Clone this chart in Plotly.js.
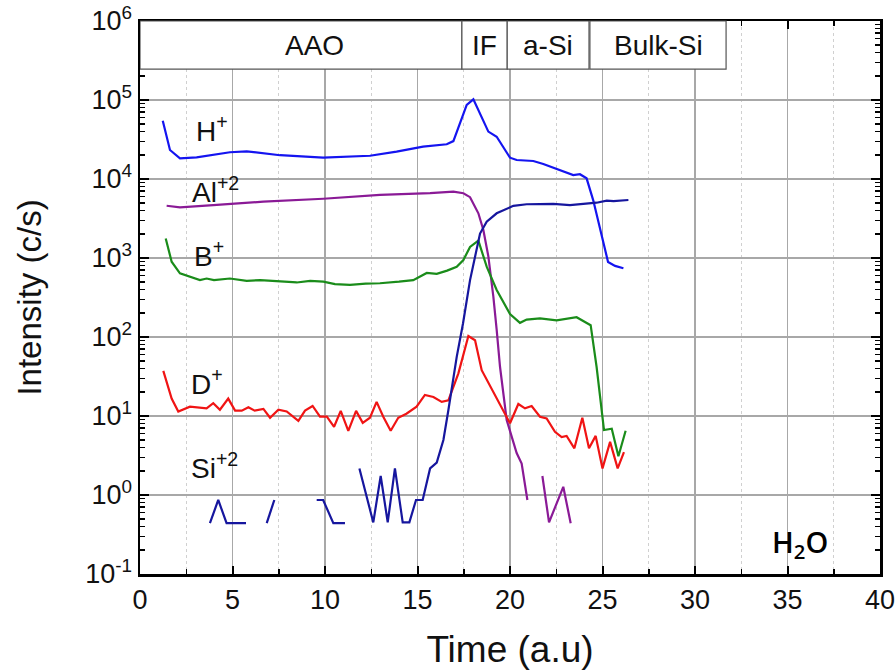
<!DOCTYPE html>
<html>
<head>
<meta charset="utf-8">
<script src="https://cdn.plot.ly/plotly-3.0.1.min.js"></script>
<style>html,body{margin:0;padding:0;background:#fff;}#chart{width:895px;height:671px;}</style>
</head>
<body>
<div id="chart"></div>
<script>
// ---- data (Time in a.u., Intensity in c/s) ----
const hTime = [1.23,1.62,2.16,3.06,4.86,5.77,7.57,9.9,12.43,13.87,15.3,16.58,16.94,17.3,17.66,18.02,18.47,18.83,19.28,20.0,20.36,21.26,21.8,22.52,23.42,23.78,24.14,24.5,24.95,25.3,25.68,26.13];
const hVal  = [54700,23300,18300,18800,21800,22400,20000,18600,19700,22200,25700,27500,30200,50700,86500,102000,61700,39800,34300,18600,17400,16900,15500,13300,11200,11500,10200,5370,1860,891,794,741];

const alTime = [1.44,2.16,3.96,6.67,9.91,12.97,15.68,16.94,17.48,17.84,18.29,18.56,18.83,19.1,19.28,19.46,19.82,20.36,20.63,20.94,21.3,21.75,22.11,22.88,23.28];
const alVal  = [4590,4370,4680,5160,5620,6310,6610,6920,6610,5890,3680,2260,1050,324,123,42,8.9,3.4,2.5,0.865,null,1.74,0.45,1.27,0.44];

const bTime = [1.39,1.71,2.16,2.7,3.24,3.6,4.0,4.86,5.77,6.5,7.2,8.0,8.47,9.2,9.91,10.54,11.35,12.2,12.97,14.0,14.77,15.5,16.04,16.6,17.12,17.48,17.84,18.29,18.74,19.28,20.0,20.54,20.9,21.62,22.52,23.6,24.36,24.68,25.08,25.5,25.86,26.25];
const bVal  = [1770,898,640,575,525,550,525,550,513,525,513,507,490,513,501,468,457,473,479,501,525,646,631,692,776,944,1380,1660,776,394,195,151,166,172,162,178,141,42,6.65,6.9,3.1,6.5];

const dTime = [1.26,1.71,2.07,2.7,3.6,3.96,4.32,4.77,5.14,5.5,5.86,6.2,6.67,7.03,7.48,7.93,8.56,8.92,9.33,9.73,10.1,10.49,10.85,11.26,11.68,12.04,12.43,12.79,13.15,13.55,13.96,14.4,14.95,15.4,15.86,16.31,16.67,17.21,17.75,18.11,18.47,18.92,19.55,20.0,20.45,20.81,21.17,21.62,21.98,22.43,22.79,23.06,23.48,23.91,24.27,24.63,25.0,25.41,25.82,26.16];
const dVal  = [37.2,16.6,11.4,13.1,12.5,14.5,12.0,16.6,11.7,11.7,12.9,11.7,12.3,9.5,12.0,11.4,8.7,11.7,13.4,9.8,9.8,7.3,11.6,6.5,11.6,8.2,9.5,15.1,9.8,6.5,9.5,10.7,13.1,18.5,17.4,15.1,15.8,34.7,103,91,38,24,13.1,8.1,14.2,12.5,13.4,9.8,9.3,6.3,5.4,5.6,3.9,9.5,3.9,5.6,2.17,4.7,2.17,3.5];

const siTime = [3.78,4.23,4.68,5.73,6.3,6.85,7.26,8.4,9.55,9.9,10.45,11.08,11.5,11.86,12.61,13.01,13.39,13.78,14.2,14.56,14.92,15.28,15.68,16.04,16.4,16.67,17.12,17.46,17.84,18.38,18.74,19.28,20.18,20.9,22.34,23.24,24.14,24.68,25.23,25.6,26.4];
const siVal  = [0.44,0.865,0.44,0.44,null,0.44,0.865,null,0.865,0.865,0.44,0.44,null,2.17,0.45,1.74,0.45,2.17,0.45,0.45,0.865,0.865,2.17,2.57,4.97,11.9,56,148,525,2040,2880,3680,4570,4790,4830,4680,4830,5010,5310,5250,5420];

const regionNames = ['AAO','IF','a-Si','Bulk-Si'];
const regionStart = [0,17.4,19.85,24.32];
const regionEnd   = [17.4,19.85,24.27,31.68];
const regionLabelX = [9.45,18.62,22.05,28.0];

const yTickVals = [0.1,1,10,100,1000,10000,100000,1000000];
const yTickText = ['10<sup>-1</sup>','10<sup>0</sup>','10<sup>1</sup>','10<sup>2</sup>','10<sup>3</sup>','10<sup>4</sup>','10<sup>5</sup>','10<sup>6</sup>'];
const xTickVals = [0,5,10,15,20,25,30,35,40];

// species labels
const speciesText = ['H<sup>+</sup>','Al<sup>+2</sup>','B<sup>+</sup>','D<sup>+</sup>','Si<sup>+2</sup>'];
const speciesX = [3.9,4.1,3.75,3.6,4.0];
const speciesY = [0.805,0.694,0.578,0.347,0.196];

const FONT = 'Liberation Sans, Arial, sans-serif';

function line(x, y, color) {
  return {x: x, y: y, type: 'scatter', mode: 'lines', connectgaps: false,
          line: {color: color, width: 2.2}, hoverinfo: 'skip', showlegend: false};
}

const traces = [
  line(hTime, hVal, '#1414f0'),
  line(alTime, alVal, '#8a1a96'),
  line(bTime, bVal, '#1a8c1a'),
  line(dTime, dVal, '#f01414'),
  line(siTime, siVal, '#16169e')
];

const shapes = regionNames.map((n, i) => ({
  type: 'rect', xref: 'x', yref: 'paper', x0: regionStart[i], x1: regionEnd[i], y0: 0.913, y1: 1,
  line: {color: '#555', width: 1.2}, fillcolor: '#fff', layer: 'above'
}));

const annotations = regionNames.map((n, i) => ({
  text: n, xref: 'x', yref: 'paper', x: regionLabelX[i], y: 0.956, showarrow: false,
  font: {family: FONT, size: 28, color: '#111'}, xanchor: 'center', yanchor: 'middle'
})).concat(speciesText.map((t, i) => ({
  text: t, xref: 'x', yref: 'paper', x: speciesX[i], y: speciesY[i], showarrow: false,
  font: {family: FONT, size: 28, color: '#111'}, xanchor: 'center', yanchor: 'middle'
}))).concat([{
  text: 'H<sub>2</sub>O', xref: 'x', yref: 'paper', x: 35.7, y: 0.055, showarrow: false,
  font: {family: 'Open Sans, Noto Sans, sans-serif', size: 29, color: '#000', weight: 600},
  xanchor: 'center', yanchor: 'middle'
}]);

const layout = {
  width: 895, height: 671,
  margin: {l: 140, r: 15, t: 21, b: 97},
  paper_bgcolor: '#fff', plot_bgcolor: '#fff',
  font: {family: FONT, color: '#111'},
  showlegend: false,
  xaxis: {
    range: [0, 40], tickvals: xTickVals, ticks: 'inside', ticklen: 8, tickwidth: 2, tickcolor: '#000',
    ticklabeloverflow: 'allow',
    showline: true, linecolor: '#000', linewidth: 2.5, mirror: 'ticks',
    showgrid: true, gridcolor: '#a8a8a8', gridwidth: 1.3, zeroline: false,
    minor: {dtick: 2.5, ticks: 'inside', ticklen: 5, tickwidth: 1.5, tickcolor: '#000', showgrid: true, gridcolor: '#d0d0d0', griddash: 'dot', gridwidth: 1},
    tickfont: {family: FONT, size: 27, color: '#111'},
    title: {text: 'Time (a.u)', font: {family: FONT, size: 37, color: '#111'}, standoff: 22}
  },
  yaxis: {
    type: 'log', range: [-1, 6], tickvals: yTickVals, ticktext: yTickText,
    ticks: 'inside', ticklen: 9, tickwidth: 2, tickcolor: '#000',
    showline: true, linecolor: '#000', linewidth: 2.5, mirror: 'ticks',
    showgrid: true, gridcolor: '#a8a8a8', gridwidth: 1.3, zeroline: false,
    minor: {dtick: 'D1', ticks: 'inside', ticklen: 5, tickwidth: 1.5, tickcolor: '#000', showgrid: false},
    tickfont: {family: FONT, size: 27, color: '#111'},
    title: {text: 'Intensity (c/s)', font: {family: FONT, size: 33, color: '#111'}, standoff: 34}
  },
  shapes: shapes,
  annotations: annotations
};

Plotly.newPlot('chart', traces, layout, {staticPlot: true, displayModeBar: false});
</script>
</body>
</html>
